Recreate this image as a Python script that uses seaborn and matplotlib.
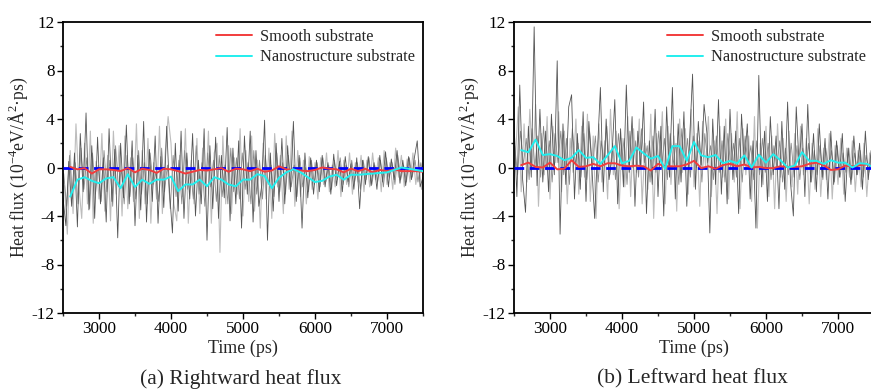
import numpy as np
import pandas as pd
import matplotlib
matplotlib.use("Agg")
import matplotlib.pyplot as plt
import seaborn as sns
from matplotlib.ticker import MultipleLocator

# ---------------- data ----------------
raw_start_dark = 2500
raw_start_mid = 2510
raw_start_light = 2520
raw_step = 40

left_raw_dark = [
    -2.5, -4.8, 0.5, -3.2, 1.2, -4.9, 2.8, -2.0, 4.5, -3.5, 1.8, -4.2, 2.5,
    -3.0, 0.8, -4.5, 3.2, -2.8, 1.5, -5.8, 2.0, -2.5, 3.5, -3.0, 2.2, -4.8,
    1.0, -3.5, 3.8, -4.5, 1.5, -2.8, 2.6, -4.6, 0.9, -3.3, 3.4, -2.0,
    -5.4, 2.0, -3.6, 3.0, -4.2, 1.2, -2.6, 2.8, -4.0, 0.6, -3.0, 3.2, -6.0,
    1.8, -3.4, 2.5, -4.2, 1.0, -2.5, 3.3, -4.4, 1.6, -3.0, 2.2, -5.0,
    2.6, -2.2, 3.0, -4.5, 1.4, -3.2, -1.5, 3.9, -6.0, 1.2, -3.6, 2.0, -2.8,
    2.4, -3.0, 1.8, -2.0, 3.8, -2.8, 1.0, -5.0, 1.2, -2.5, 0.8, -2.2,
    0.6, -2.0, 1.0, -1.6, 0.4, -2.2, 1.1, -1.5, 0.5, -2.0, 0.9, -1.2, 0.3,
    -1.8, 0.8, -3.4, 0.6, -1.4, 0.9, -1.5, 0.4, -1.8, 1.0, -1.2, 1.3, -1.6,
    0.7, -1.0, 1.4, -1.3, 0.6, -1.5, 0.9, -1.0, 0.8, 2.2, -1.6, -0.8,
]
left_raw_mid = [
    -0.5, -3.2, 1.0, -2.6, 0.4, -3.0, 1.6, -1.8, 0.8, -3.4, 1.2, -2.2, 0.2,
    -2.8, 1.4, -2.0, 0.6, -3.2, 1.8, -1.6, -0.2, -3.0, 1.0, -2.4, 0.8, -2.6,
    1.4, -2.2, 0.4, -3.0, 1.2, -1.4, -0.4, -2.8, 1.6, -2.0, 0.2, -3.4,
    1.0, -2.4, 0.6, -3.0, 1.4, -1.8, 0.0, -2.6, 1.8, -2.2, 0.4, -3.2, 1.2,
    -1.6, 0.6, -2.8, 1.0, -2.4, 0.2, -3.0, 1.6, -2.0, 0.8, -2.6, 1.2,
    -1.8, 0.4, -3.0, 1.4, -2.2, 0.6, -2.6, 1.0, -1.4, 0.2, -2.4, 1.2, -2.0,
    0.4, -2.2, 1.0, -1.6, 0.2, -2.4, 0.8, -1.6, 0.0, -2.0, 0.6, -1.4,
    0.4, -1.6, 0.8, -1.2, 0.2, -1.8, 0.6, -1.0, 0.8, -1.4, 0.2, -1.6, 0.6,
    -1.2, 0.4, -1.8, 0.6, -1.0, 0.8, -1.4, 0.2, -1.2, 0.6, -1.6, 0.8, -0.8,
    0.4, -1.4, 1.0, -1.0, 0.2, -1.2, 0.8, -0.8, 0.6, -1.2, 0.4, -1.0, 0.2,
]
left_raw_light = [
    -1.5, -5.5, 1.4, -3.8, 3.6, -1.5, -4.2, 2.0, -3.0, 3.0, -4.6, 0.5,
    -2.6, 2.8, -3.6, 1.0, -4.4, 3.0, -2.2, 1.8, -4.0, 2.6, -3.4, 0.8, -2.8,
    3.6, -4.2, 1.4, -3.0, 2.4, -4.6, 0.4, -2.6, 3.4, -3.8, 1.2, 4.2,
    2.0, -3.0, -4.4, 1.0, -2.4, 3.2, -4.6, 0.6, -3.0, 2.4, -3.8, 1.6, -2.4,
    3.0, -4.6, 1.2, 2.0, -7.0, 2.6, -3.0, 1.8, -3.8, 0.8, -2.2, 3.2, -4.0,
    1.4, -2.8, 2.6, -3.6, 0.6, -5.0, 2.0, -2.6, 1.6, -4.2, 2.8, -1.6,
    1.0, -3.8, 2.6, -1.8, 3.0, -3.2, 1.4, -2.4, 0.6, -3.0, 0.9, -1.8,
    0.4, -2.6, 0.8, -1.4, 1.2, -2.0, 0.2, -1.6, 1.4, -2.4, 0.6, -1.4, 1.2,
    -2.2, 0.4, -1.2, 1.0, -2.0, 0.6, -1.6, 1.2, -1.0, 0.8, -2.0, 1.4, -1.4,
    0.4, -1.8, 1.6, -0.8, 1.0, -1.6, 0.7, -1.2, 1.2, -1.4, 0.6, -1.8, -0.6,
]
right_raw_dark = [
    3.8, -2.4, 6.8, -1.0, -3.7, 3.4, -0.8, 11.6, -1.5, 4.8, -1.2, 3.0, -2.0,
    4.4, -0.6, 8.8, -5.5, 3.6, -1.4, 5.0, 6.0, -2.6, 2.8, -1.8, 4.6, -2.8,
    3.8, 0.2, -4.2, 1.5, 6.6, -2.0, 4.0, -1.0, 0.8, 5.6, -3.0, 3.2,
    -1.6, 6.8, -0.4, 4.2, -3.2, 3.0, 0.0, 5.4, -3.8, 2.2, -1.4, 4.8, -2.4,
    3.4, -4.0, 5.0, -0.8, 6.6, -2.6, 3.6, -1.2, 4.6, -3.2, 2.4, 7.7,
    -1.8, 3.8, 0.2, 5.2, 2.8, -5.4, 4.0, -1.4, 5.6, -2.2, 3.4, -3.0, 4.8,
    -1.0, 3.0, -3.8, 4.4, 0.2, 3.6, -2.6, 2.2, -5.0, 7.6, -1.6, 3.0,
    -2.8, 4.2, -0.6, 2.6, -3.4, 3.8, -1.8, 5.4, -1.2, -4.0, 5.0, 0.2, 3.6,
    -2.4, 5.2, -1.2, 2.8, -2.0, 3.6, -0.8, 2.4, -2.6, 3.0, -1.4, 2.2,
    -0.8, 2.8, -2.8, 1.6, -1.4, 2.6, -0.6, 2.0, -1.8, 3.0, -1.0, 1.4, -2.6,
]
right_raw_mid = [
    1.8, -0.6, 3.0, 0.2, 2.4, -1.0, 3.2, 0.0, 2.6, -0.8, 3.4, -0.2, 2.2,
    -1.2, 2.8, 0.4, 3.0, -0.6, 2.4, -1.4, 3.2, 0.2, 2.0, -0.8, 2.8, -1.0,
    3.0, 0.0, 2.6, -1.2, 2.2, 0.4, 3.4, -0.6, 2.0, -1.0, 2.8, 0.2,
    2.4, -1.4, 3.0, 0.0, 2.2, -0.8, 3.2, 0.4, 1.8, -1.2, 2.6, -0.4, 3.0,
    0.0, 2.4, -1.0, 2.8, 0.2, 2.0, -1.4, 3.2, -0.2, 2.4, -0.8, 2.6,
    0.0, 2.2, -1.2, 2.8, 0.4, 1.8, -1.0, 2.6, -0.4, 2.2, -1.2, 2.8, 0.0,
    2.0, -0.8, 2.4, -1.2, 2.6, 0.2, 1.8, -1.0, 2.2, -0.6, 2.4,
    -0.4, 2.0, -1.0, 1.8, 0.0, 2.2, -1.2, 1.6, -0.6, 2.0, -0.8, 1.8, -1.0,
    1.6, -0.4, 2.0, -1.2, 1.4, -0.6, 1.8, -1.0, 1.6, -0.2, 1.4, -1.2, 1.8,
    -0.8, 1.2, -0.4, 1.6, -1.0, 1.2, -0.6, 1.4, -0.8, 1.0, -0.4, 1.2, 0.0,
]
right_raw_light = [
    1.0, 5.0, -2.0, 3.6, -1.2, 4.8, 0.0, 5.2, -3.2, 2.8, -0.6, 4.2,
    -2.6, 3.4, 0.4, 4.6, -2.0, 3.0, -3.0, 2.4, -0.4, 4.0, -2.2, 3.4, -0.8,
    4.4, -2.8, 2.6, -4.2, 3.6, -1.2, 2.2, -2.6, 4.8, -0.6, 3.0, -3.4,
    2.4, -1.6, 4.2, -2.4, 3.2, -0.4, 4.0, -3.0, 2.0, -1.8, 4.4, -4.2, 2.8,
    -0.2, 4.6, -3.0, 3.4, -1.4, 2.6, -3.6, 4.0, -0.4, 3.2, -2.2, 4.8,
    -1.6, 2.8, -3.2, 3.8, 0.0, 4.2, -2.4, 2.2, -3.8, 3.4, -0.8, 4.0, -2.6,
    2.8, -1.2, 4.6, -3.4, 3.2, -0.6, 2.6, -2.8, 4.2, -5.0, 2.0, -1.4,
    3.4, -2.4, 2.6, -3.4, 3.6, -0.8, 2.4, -2.8, 3.0, -1.6, 2.8, -2.2, 3.4,
    -0.6, 2.4, -3.0, 2.0, -1.8, 3.2, -2.4, 1.6, -1.0, 2.8, -2.6, 1.8, -1.4,
    2.4, -2.2, 1.6, -0.8, 2.2, -2.0, 1.4, -1.6, 2.0, -2.4, 1.2, -1.0, 0.4,
]

avg_time = list(range(2600, 7600, 100))

left_smooth = [
    0.05, -0.15, -0.05, -0.5, -0.15, -0.15, -0.2, -0.3, -0.05, -0.4,
    -0.1, -0.2, -0.45, -0.1, -0.15, -0.3, -0.5, -0.35, -0.2, -0.25,
    -0.15, -0.05, -0.35, -0.1, -0.15, -0.3, -0.1, -0.35, -0.25, 0.1,
    -0.15, -0.2, -0.25, -0.3, -0.2, 0.0, -0.1, -0.15, -0.4, -0.1,
    -0.3, -0.1, -0.4, -0.2, -0.3, -0.15, -0.3, -0.3, -0.3, -0.35,
]
left_nano = [
    -2.4, -1.0, -0.8, -1.1, -1.3, -0.9, -0.8, -1.7, -0.55, -1.6,
    -1.0, -1.35, -1.0, -1.0, -0.75, -1.95, -1.4, -1.4, -1.0, -1.55,
    -0.8, -1.0, -1.4, -1.55, -1.0, -1.0, -0.55, -0.7, -1.7, -0.85,
    -0.4, -0.15, -0.4, -0.8, -1.2, -1.1, -0.75, -0.6, -1.0, -0.6,
    -0.6, -0.55, -0.5, -0.45, -0.4, -0.2, 0.0, -0.1, -0.2, -0.3,
]
right_smooth = [
    0.2, 0.4, 0.05, 0.0, 0.4, -0.15, -0.1, 0.6, 0.05, 0.1,
    0.3, 0.1, 0.35, 0.35, 0.15, 0.1, 0.15, 0.1, -0.25, 0.3,
    0.1, 0.1, 0.1, 0.25, 0.55, -0.05, 0.1, -0.1, 0.2, 0.3,
    0.1, 0.25, 0.0, 0.05, -0.05, -0.05, 0.1, 0.05, 0.05, 0.1,
    0.3, 0.4, 0.2, -0.2, -0.15, 0.15, 0.1, 0.2, 0.25, 0.1,
]
right_nano = [
    1.43, 1.26, 2.3, 1.03, 1.1, 0.95, 0.6, 0.8, 1.43, 0.8,
    0.85, 0.3, 1.0, 1.76, 0.35, 0.55, 1.65, 1.17, 0.73, 0.95,
    -0.1, 1.76, 1.76, 0.55, 2.1, 1.0, 0.85, 1.03, 0.35, 0.55,
    0.35, 1.0, 0.0, 1.05, 0.4, 1.1, 0.6, 0.0, 0.15, 1.26,
    0.55, 0.55, 0.3, 0.6, 0.4, 0.4, 0.0, 0.35, 0.3, 0.0,
]

series_labels = ["Smooth substrate", "Nanostructure substrate"]
panel_captions = ["(a) Rightward heat flux", "(b) Leftward heat flux"]
y_ticks = [-12, -8, -4, 0, 4, 8, 12]
x_ticks = [3000, 4000, 5000, 6000, 7000]

# ---------------- style ----------------
sns.set_theme(style="ticks")
plt.rcParams["font.family"] = ["Liberation Serif", "DejaVu Serif"]
plt.rcParams["mathtext.fontset"] = "custom"
plt.rcParams["mathtext.rm"] = "Liberation Serif"
plt.rcParams["mathtext.it"] = "Liberation Serif:italic"

fig = plt.figure(figsize=(8.71, 3.90), dpi=100)
W, H = 871, 390
ax_l = fig.add_axes([63 / W, (H - 313) / H, 360 / W, 291 / H])
ax_r = fig.add_axes([514 / W, (H - 313) / H, 360 / W, 291 / H])

panels = [
    (ax_l, left_raw_dark, left_raw_mid, left_raw_light, left_smooth, left_nano, panel_captions[0], 241),
    (ax_r, right_raw_dark, right_raw_mid, right_raw_light, right_smooth, right_nano, panel_captions[1], 692),
]

for ax, rd, rm, rl, sm, nn, cap, cx in panels:
    t_d = raw_start_dark + raw_step * np.arange(len(rd))
    t_m = raw_start_mid + raw_step * np.arange(len(rm))
    t_l = raw_start_light + raw_step * np.arange(len(rl))
    sns.lineplot(x=t_l, y=rl, ax=ax, color="#bdbdbd", linewidth=0.8, legend=False)
    sns.lineplot(x=t_m, y=rm, ax=ax, color="#8a8a8a", linewidth=0.6, legend=False)
    sns.lineplot(x=t_d, y=rd, ax=ax, color="#555555", linewidth=0.6, legend=False)
    ax.axhline(0, color="#0000ff", linestyle=(0, (3.5, 2)), linewidth=2.0, zorder=3)
    sns.lineplot(x=avg_time, y=sm, ax=ax, color="#f23c3c", linewidth=1.4,
                 label=series_labels[0], zorder=4)
    sns.lineplot(x=avg_time, y=nn, ax=ax, color="#22eeee", linewidth=1.4,
                 label=series_labels[1], zorder=4)

    ax.set_xlim(2500, 7500)
    ax.set_ylim(-12, 12)
    ax.set_yticks(y_ticks)
    ax.set_yticklabels([str(v) for v in y_ticks])
    ax.set_xticks(x_ticks)
    ax.xaxis.set_minor_locator(MultipleLocator(500))
    ax.yaxis.set_minor_locator(MultipleLocator(2))
    ax.tick_params(axis="both", which="major", direction="out", length=4, width=1,
                   labelsize=12.3, colors="black", pad=2)
    ax.tick_params(axis="both", which="minor", direction="out", length=2.5, width=1)
    ax.tick_params(top=False, right=False, which="both")
    for sp in ax.spines.values():
        sp.set_visible(True)
        sp.set_linewidth(1.3)
        sp.set_color("black")
    ax.set_xlabel("Time (ps)", fontsize=13, labelpad=2)
    ax.set_ylabel("Heat flux (10$^{-4}$eV/Å$^{2}$·ps)", fontsize=12.7, labelpad=1)
    ax.legend(loc="upper right", frameon=False, fontsize=11.8, handlelength=2.2,
              borderaxespad=0.0, labelspacing=0.3, handletextpad=0.45,
              bbox_to_anchor=(0.995, 1.0))
    fig.text(cx / W, (H - 379) / H, cap, ha="center", va="center", fontsize=15.5)

fig.savefig("out.png", dpi=100)
